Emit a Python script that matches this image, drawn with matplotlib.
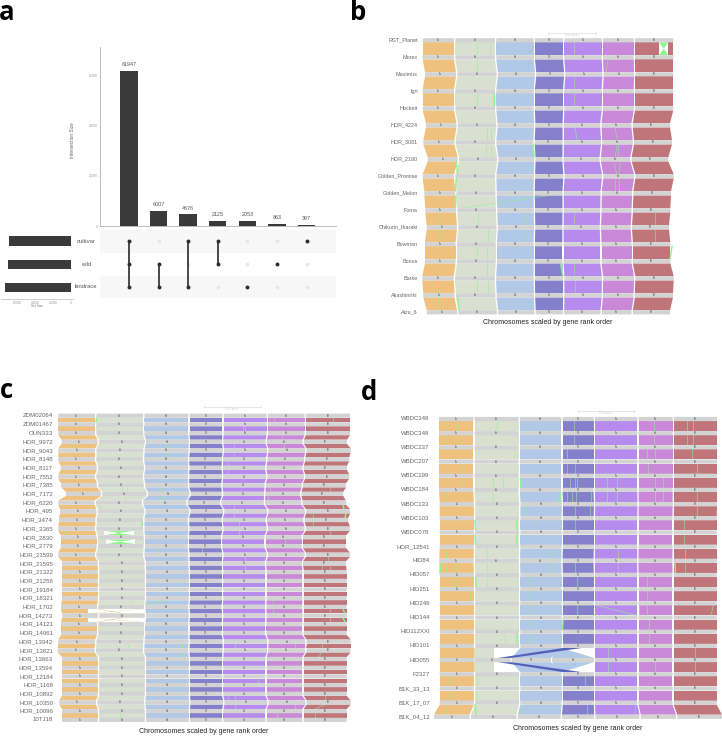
import matplotlib
matplotlib.use("Agg")
import matplotlib.pyplot as plt
from matplotlib.patches import FancyBboxPatch, Polygon

plt.rcParams["font.family"] = ["Liberation Sans", "DejaVu Sans"]

WIDTH, HEIGHT = 722, 736

# panel a
intersection_sizes = [61947, 6007, 4676, 2125, 2053, 863, 397]
intersection_members = [
    ["cultivar", "wild", "landrace"],
    ["wild", "landrace"],
    ["cultivar", "landrace"],
    ["cultivar", "wild"],
    ["landrace"],
    ["wild"],
    ["cultivar"],
]
set_names = ["cultivar", "wild", "landrace"]
set_sizes = [69145, 70942, 74683]
size_ticks = [0, 20000, 40000, 60000]

# riparian chromosomes
chrom_labels = ["1h", "2h", "3h", "4h", "5h", "6h", "7h"]
chrom_colors = ["#EFC17F", "#D9E0D0", "#B1C8E6", "#8480CC", "#B78BEE", "#C988D8", "#BF7579"]

# panel b
names_b = ["RGT_Planet", "Morex", "Maximus", "Igri", "Hockett", "HOR_4224", "HOR_3081", "HOR_2180",
           "Golden_Promise", "Golden_Melon", "Foma", "Chikurin_Ibaraki", "Bowman", "Bonus", "Barke",
           "Akashinriki", "Aizu_6"]
widths_b = [31.6, 40, 37.7, 28.3, 37.7, 31, 38.6]
lefts_b = [422.7, 422.7, 425, 422.7, 422.7, 426, 423.3, 427.7, 422.7, 424.3, 425.3, 426.7, 425, 425,
           422.3, 423.3, 426.7]
rights_b = [673.3, 673.3, 673.3, 673.3, 673.3, 670, 672, 668.3, 673.7, 671, 670.3, 669, 670.3, 670.3,
            673.7, 673, 670]
lines_b = [
    (0, 476.7, 476.7), (0, 490, 490), (0, 574, 574), (1, 476.7, 476.7), (1, 608.3, 606), (2, 574, 574),
    (3, 476.7, 476.7), (3, 493.3, 493.3), (3, 574, 574), (5, 486.7, 486.7), (5, 491, 491), (5, 575, 577),
    (5, 615, 617.3), (6, 486.7, 486), (6, 491, 491), (6, 617.3, 615), (6, 618.3, 618.3), (7, 614, 616.7),
    (7, 620.7, 619), (8, 615, 615), (8, 619.3, 619.3), (9, 550, 460), (10, 439.3, 440.7), (10, 478.3, 478.3),
    (10, 525, 525), (10, 575, 574), (10, 655, 655), (11, 440.7, 439.7), (11, 488.3, 488.3), (11, 526.7, 525.7),
    (11, 655, 655.7), (12, 477.3, 477.3), (12, 487.3, 487.3), (13, 486.7, 486.7), (13, 574.3, 574.3),
    (13, 560, 562.7), (14, 436.7, 436.7), (14, 476.7, 476.7), (14, 488.3, 488.3), (14, 575, 575),
    (15, 438.3, 439),
]
edges_b = [(3, 494, 494), (7, 456, 458), (8, 456.5, 455), (9, 456, 455.5), (6, 533, 534), (12, 672, 670),
           (13, 561, 563), (15, 458, 459)]
bowties_b = [(0, 659, 668.3)]

# panel c
names_c = ["ZDM02064", "ZDM01467", "OUN333", "HOR_9972", "HOR_9043", "HOR_8148", "HOR_8117", "HOR_7552",
           "HOR_7385", "HOR_7172", "HOR_6220", "HOR_495", "HOR_3474", "HOR_3365", "HOR_2830", "HOR_2779",
           "HOR_21599", "HOR_21595", "HOR_21322", "HOR_21256", "HOR_19184", "HOR_18321", "HOR_1702",
           "HOR_14273", "HOR_14121", "HOR_14061", "HOR_13942", "HOR_13821", "HOR_13663", "HOR_13594",
           "HOR_12184", "HOR_1168", "HOR_10892", "HOR_10350", "HOR_10096", "10TJ18"]
widths_c = [36.7, 46.7, 43.7, 32.7, 43, 36.6, 44]
lefts_c = [58.3, 58.3, 58.3, 61.7, 58.3, 58.3, 60.7, 58.3, 61, 66, 58.3, 60, 59, 58.3, 60.7, 60.7, 58.3,
           62, 62, 62, 62, 62, 61, 62, 61, 61, 58.3, 57.7, 62, 62, 62, 62, 62, 59.3, 62, 62]
rights_c = [350, 350, 350, 347, 350.7, 349.3, 347, 349.3, 346, 343.3, 346, 350, 348.3, 350, 346, 346, 350,
            346, 346.7, 346.7, 346.7, 346.7, 346.7, 346.7, 346.7, 346.7, 350.7, 350.7, 346.7, 346.7, 346.7,
            346.7, 346.7, 350.7, 346.7, 346.7]
lines_c = [
    (0, 75, 75), (0, 178.3, 178.3), (0, 274.3, 274.3), (0, 332.7, 332.7), (1, 243.3, 243.3), (1, 245, 245),
    (2, 281.7, 281.7), (3, 72.7, 72.7), (3, 168.3, 168.3), (3, 234, 234), (3, 284.3, 284.3), (4, 168.3, 168.3),
    (4, 234.3, 234.3), (5, 228.3, 228.3), (6, 228.3, 228.3), (8, 121.7, 121.7), (8, 126.7, 126.7), (8, 160, 160),
    (8, 270, 270), (8, 330, 330), (9, 125, 125), (9, 160, 162), (9, 163.3, 163.3), (9, 268.3, 268.3),
    (10, 100, 100), (10, 234, 234), (11, 234, 234), (11, 313.3, 313.3), (12, 68.3, 68.3), (12, 313.3, 313.3),
    (12, 239, 239), (13, 65, 65), (13, 330, 330), (13, 239.3, 239.3), (14, 285, 285), (15, 201.7, 201.7),
    (15, 158.3, 158.3), (16, 245, 245), (16, 328.3, 328.3), (17, 245.3, 245.3), (17, 321.7, 321.7),
    (17, 330, 330), (21, 131.7, 131.7), (21, 165, 145), (21, 273.3, 273.3), (22, 273.3, 273.3), (22, 330, 330),
    (23, 68.3, 68.3), (23, 330, 330), (24, 68.3, 68.3), (26, 128.3, 128.3), (26, 181.7, 181.7), (26, 295, 295),
    (26, 321.7, 321.7), (26, 235, 235), (27, 91.7, 91.7), (27, 181.7, 181.7), (27, 321.7, 319), (30, 66.7, 66.7),
    (30, 258, 258), (31, 66.7, 66.7), (32, 228.3, 228.3), (32, 235, 235), (32, 325, 325), (33, 235, 235),
    (33, 325, 315), (33, 295, 295), (34, 120, 120), (34, 315, 315), (34, 276.7, 276.7),
]
edges_c = [(0, 96.5, 96), (12, 142.5, 142), (26, 183, 181), (27, 183, 181), (10, 343, 344), (11, 346, 345),
           (22, 343, 345), (23, 343, 345)]
bowties_c = [(13, 104, 134), (14, 106, 134.7)]
ribbons_c = [
    (22, "white", 88.3, 145, 88.3, 145), (22, "#E3BE7C", 95.5, 98, 122.5, 125), (22, "#A9AD66", 142, 144, 88, 90),
    (23, "white", 88.3, 145, 88.3, 145), (23, "#E3BE7C", 122.5, 125, 95.5, 98), (23, "#A9AD66", 88, 90, 142, 144),
]

# panel d
names_d = ["WBDC349", "WBDC348", "WBDC237", "WBDC207", "WBDC199", "WBDC184", "WBDC133", "WBDC103", "WBDC078",
           "HOR_12541", "HID84", "HID057", "HID251", "HID249", "HID144", "HID112XXI", "HID101", "HID055", "F2327",
           "B1K_33_13", "B1K_17_07", "B1K_04_12"]
widths_d = [34, 43.6, 41, 30.7, 42, 33.7, 42.7]
lefts_d = [439, 439, 439, 439, 439, 439, 439.7, 439.7, 439.7, 439.7, 439.3, 439.7, 439.7, 439.7, 439.7, 439.7,
           439.7, 439.7, 439.7, 439.7, 439.7, 434]
rights_d = [717, 717, 717, 717, 717, 717, 717, 716.7, 716.7, 716.7, 716.7, 716.7, 716.7, 716.7, 716.7, 716.7,
            716.7, 716.7, 716.7, 716.7, 716.7, 722]
lines_d = [
    (0, 447.3, 447.3), (0, 458.3, 458.3), (0, 496.7, 496.7), (0, 574, 574), (0, 654.3, 654.3), (0, 686.7, 686.7),
    (0, 692.7, 692.7), (1, 447.3, 447.3), (1, 458.3, 458.3), (1, 574, 574), (1, 654.3, 654.3), (1, 686.7, 686.7),
    (1, 692.7, 692.7), (2, 514.3, 514.3), (2, 566.7, 566.7), (2, 647.3, 647.3), (2, 655, 655), (2, 691.7, 691.7),
    (3, 462.7, 462.7), (3, 566.7, 566.7), (3, 575, 575), (3, 647.7, 647.7), (3, 696.7, 696.7), (4, 462.7, 462.7),
    (4, 493.3, 493.3), (4, 502.7, 502.7), (4, 570, 570), (4, 575, 575), (4, 577.3, 577.3), (4, 606.7, 606.7),
    (4, 616.7, 616.7), (4, 655, 655), (4, 663.3, 663.3), (5, 447.3, 447.3), (5, 493.3, 493.3), (5, 566.7, 566.7),
    (5, 571.7, 571.7), (5, 576, 576), (5, 591, 591), (5, 606.7, 606.7), (5, 616.7, 616.7), (5, 655, 655),
    (5, 663.3, 663.3), (5, 697.3, 697.3), (6, 525, 525), (6, 575, 575), (6, 590, 590), (6, 696.7, 696.7),
    (7, 535, 535), (7, 575, 575), (7, 684, 684), (8, 684, 684), (9, 446, 446), (9, 486.7, 486.7), (9, 552.7, 552.7),
    (9, 618.3, 618.3), (9, 685, 685), (10, 446, 446), (10, 456, 456), (10, 486.7, 486.7), (10, 552.7, 552.7),
    (10, 575, 575), (10, 618.3, 618.3), (10, 685, 685), (11, 456, 456), (11, 486.7, 486.7), (11, 529.3, 529.3),
    (11, 576.7, 576.7), (11, 646.7, 646.7), (12, 530, 530), (12, 646.7, 646.7), (12, 470, 470), (13, 530, 530),
    (13, 576.7, 576.7), (13, 596.7, 636.7), (13, 639.3, 639.3), (13, 646.7, 646.7), (13, 713.3, 711), (14, 530, 530),
    (14, 649.3, 649.3), (15, 505, 505), (15, 530, 530), (15, 649.3, 649.3), (16, 608.3, 608.3), (16, 695, 695),
    (17, 608.3, 608.3), (17, 655, 655), (17, 695, 695), (18, 450, 450), (18, 476.7, 476.7), (18, 585, 585),
    (19, 450, 450), (19, 476.7, 476.7), (20, 448, 445), (20, 521.7, 521.7), (20, 586.7, 586.7), (20, 635, 635),
]
edges_d = [(4, 520.5, 521), (5, 560.5, 559.5), (7, 475, 475.5), (7, 516.5, 517), (8, 475, 475.5), (8, 516.5, 517),
           (10, 441, 440), (10, 675, 675.5), (11, 475.5, 476), (15, 517, 516.5), (14, 563, 562.5), (20, 475, 476)]
bowties_d = []
spans_d = {17: [("2h", 1, 474.3, 510.5), ("4h", 3, 511.5, 551), ("3h", 2, 552, 594)]}
skip_d = {16: [1, 2, 3], 17: [1, 2, 3]}
ribbons_d = [
    (16, "#D9E0D0", 474.3, 493.7, 474.3, 493.7), (16, "#B1C8E6", 520.3, 561.7, 511.5, 551),
    (16, "#B1C8E6", 558, 561.7, 552, 594), (16, "#5560B8", 563.3, 582, 498, 511),
    (17, "#D9E0D0", 474.3, 493.7, 474.3, 493.7), (17, "#B1C8E6", 511.5, 551, 520.3, 561.7),
    (17, "#B1C8E6", 552, 594, 558, 561.7), (17, "#5560B8", 498, 511, 563.3, 582),
]

captions = ["Chromosomes scaled by gene rank order"] * 3


def pixel_axes(fig, left, top, right, bottom):
    return fig.add_axes([left / WIDTH, 1 - bottom / HEIGHT, (right - left) / WIDTH, (bottom - top) / HEIGHT])


def chrom_edges(left, right, widths, gap=1.3):
    scale = (right - left - gap * (len(widths) - 1)) / sum(widths)
    edges = []
    x = left
    for width in widths:
        edges.append((x, x + width * scale))
        x += width * scale + gap
    return edges


def draw_riparian(ax, names, ys, lefts, rights, widths, lines, edge_lines, bowties, name_x, name_size,
                  spans=None, skip=None, ribbons=None, half=2.1):
    spans = spans or {}
    skip = skip or {}
    rows = [chrom_edges(left, right, widths) for left, right in zip(lefts, rights)]

    # coloured bands between neighbouring genomes
    for gap in range(len(names) - 1):
        y0, y1 = ys[gap] + half, ys[gap + 1] - half
        for chrom, color in enumerate(chrom_colors):
            if chrom in skip.get(gap, []):
                continue
            top, bottom = rows[gap][chrom], rows[gap + 1][chrom]
            ax.add_patch(Polygon([(top[0], y0), (top[1], y0), (bottom[1], y1), (bottom[0], y1)],
                                 closed=True, fc=color, ec="none", zorder=1))

    for gap, x_top, x_bottom in lines:
        ax.plot([x_top, x_bottom], [ys[gap] + half, ys[gap + 1] - half], color="#96F090", alpha=0.7,
                lw=0.55, zorder=2)
    for gap, x_top, x_bottom in edge_lines:
        ax.plot([x_top, x_bottom], [ys[gap] + half, ys[gap + 1] - half], color="#8FF58A", lw=1.0, zorder=2)

    for gap, color, top_l, top_r, bottom_l, bottom_r in ribbons or []:
        y0, y1 = ys[gap] + half, ys[gap + 1] - half
        ax.add_patch(Polygon([(top_l, y0), (top_r, y0), (bottom_r, y1), (bottom_l, y1)],
                             closed=True, fc=color, ec="none", zorder=3))

    for gap, x_left, x_right in bowties:
        y0, y1 = ys[gap] + half, ys[gap + 1] - half
        ax.fill_between([x_left, x_right], y0, y1, color="white", lw=0, zorder=3)
        ax.add_patch(Polygon([(x_left, y0), (x_right, y0), (x_left, y1), (x_right, y1)],
                             closed=True, fc="#8FF58A", ec="none", zorder=4))

    # genome rows with their chromosome bars
    for row, name in enumerate(names):
        ax.text(name_x, ys[row], name, ha="right", va="center", fontsize=name_size, color="#666666", zorder=6)
        if row in spans:
            boxes = [("1h", rows[row][0][0], rows[row][0][1])]
            boxes += [(label, x0, x1) for label, _, x0, x1 in spans[row]]
            boxes += [(chrom_labels[i], rows[row][i][0], rows[row][i][1]) for i in range(4, 7)]
        else:
            boxes = [(chrom_labels[i], rows[row][i][0], rows[row][i][1]) for i in range(7)]
        for label, x0, x1 in boxes:
            ax.add_patch(FancyBboxPatch((x0, ys[row] - half), x1 - x0, 2 * half,
                                        boxstyle="round,pad=0,rounding_size=0.9",
                                        fc="#D3D3D3", ec="none", zorder=5))
            ax.text((x0 + x1) / 2, ys[row], label, ha="center", va="center", fontsize=1.9,
                    color="#444444", zorder=6)


def draw_scale(ax, x0, x1, y):
    ax.plot([x0, x1], [y, y], color="#DDDDDD", lw=0.5)
    for x in (x0, x1):
        ax.plot([x, x], [y - 1.2, y + 1.2], color="#DDDDDD", lw=0.5)
    ax.text((x0 + x1) / 2, y + 2.2, "5000 genes", ha="center", va="center", fontsize=1.9, color="#CCCCCC")


def draw_upset(fig, overlay):
    categories = list(range(len(intersection_sizes)))

    ax = pixel_axes(fig, 99.7, 46.7, 335.5, 226)
    ax.bar(categories, intersection_sizes, width=0.59, color="#3A3A3A")
    for x, value in zip(categories, intersection_sizes):
        ax.annotate(str(value), (x, value), xytext=(0, 2.6), textcoords="offset points", ha="center",
                    va="bottom", fontsize=3.9, color="#555555")
    ax.set_xlim(-0.99, 6.98)
    ax.set_ylim(0, 71500)
    ax.set_xticks([])
    ax.set_yticks([0, 20000, 40000, 60000])
    ax.tick_params(axis="y", labelsize=2.3, labelcolor="#999999", color="#BBBBBB", length=1, width=0.4, pad=0.5)
    for side in ("top", "right"):
        ax.spines[side].set_visible(False)
    ax.spines["left"].set_color("#BBBBBB")
    ax.spines["left"].set_linewidth(0.7)
    ax.spines["bottom"].set_color("#BBBBBB")
    ax.spines["bottom"].set_linewidth(0.7)
    overlay.text(72.7, 140, "Intersection Size", rotation=90, ha="center", va="center", fontsize=3.4, color="#666666")

    mat = pixel_axes(fig, 99.7, 230, 335.5, 298.3)
    mat.set_xlim(-0.99, 6.98)
    mat.set_ylim(2.49, -0.49)
    mat.axhspan(-0.49, 0.5, color="#F7F7F7", lw=0)
    mat.axhspan(1.5, 2.49, color="#F7F7F7", lw=0)
    for x, members in zip(categories, intersection_members):
        rows = [set_names.index(m) for m in members]
        mat.scatter([x] * 3, range(3), s=7, color="#E6E6E6", lw=0, zorder=2)
        mat.scatter([x] * len(rows), rows, s=8, color="#2F2F2F", lw=0, zorder=4)
        if len(rows) > 1:
            mat.plot([x, x], [min(rows), max(rows)], color="#3A3A3A", lw=1.3, zorder=3)
    mat.axis("off")

    side = pixel_axes(fig, 1, 230, 73, 298.8)
    side.barh(range(3), set_sizes, height=0.42, color="#3A3A3A")
    side.set_xlim(78650, -2247)
    side.set_ylim(2.49, -0.49)
    side.set_yticks([])
    side.set_xticks(size_ticks)
    side.tick_params(axis="x", labelsize=2.3, labelcolor="#999999", color="#999999", length=1, width=0.3, pad=0.4)
    for name in ("top", "right", "left"):
        side.spines[name].set_visible(False)
    side.spines["bottom"].set_color("#AAAAAA")
    side.spines["bottom"].set_linewidth(0.4)
    overlay.text(37.3, 306, "Set Size", ha="center", va="center", fontsize=2.3, color="#777777")

    for y, label in zip([241.3, 264.3, 287], set_names):
        overlay.text(85.7, y, label, ha="center", va="center", fontsize=4.2, color="#555555")


def main():
    fig = plt.figure(figsize=(WIDTH / 100, HEIGHT / 100), dpi=100, facecolor="white")
    overlay = fig.add_axes([0, 0, 1, 1], zorder=5)
    overlay.set_xlim(0, WIDTH)
    overlay.set_ylim(HEIGHT, 0)
    overlay.axis("off")

    draw_upset(fig, overlay)

    ys_b = [40.3 + 17.0 * i for i in range(len(names_b))]
    ys_c = [415.7 + 8.69 * i for i in range(len(names_c))]
    ys_d = [419 + 14.18 * i for i in range(len(names_d))]

    draw_riparian(overlay, names_b, ys_b, lefts_b, rights_b, widths_b, lines_b, edges_b, bowties_b, 417.7, 3.9)
    draw_riparian(overlay, names_c, ys_c, lefts_c, rights_c, widths_c, lines_c, edges_c, bowties_c, 53, 4.4,
                  ribbons=ribbons_c)
    draw_riparian(overlay, names_d, ys_d, lefts_d, rights_d, widths_d, lines_d, edges_d, bowties_d, 429.7, 4.3,
                  spans=spans_d, skip=skip_d, ribbons=ribbons_d)

    draw_scale(overlay, 547.7, 596, 32.7)
    draw_scale(overlay, 204, 260.7, 407)
    draw_scale(overlay, 578, 633.7, 410.7)

    for x, y, caption in zip([548, 204, 578], [322.5, 731.7, 728.7], captions):
        overlay.text(x, y, caption, ha="center", va="center", fontsize=5, color="#222222")

    for x, y, letter in [(-1, 20, "a"), (350, 19.5, "b"), (0, 398.3, "c"), (361, 400, "d")]:
        overlay.text(x, y, letter, ha="left", va="baseline", fontsize=18.5, fontweight="bold",
                     family=["Open Sans", "DejaVu Sans"], color="black")

    fig.savefig("out.png", dpi=100)
    plt.close(fig)


if __name__ == "__main__":
    main()
